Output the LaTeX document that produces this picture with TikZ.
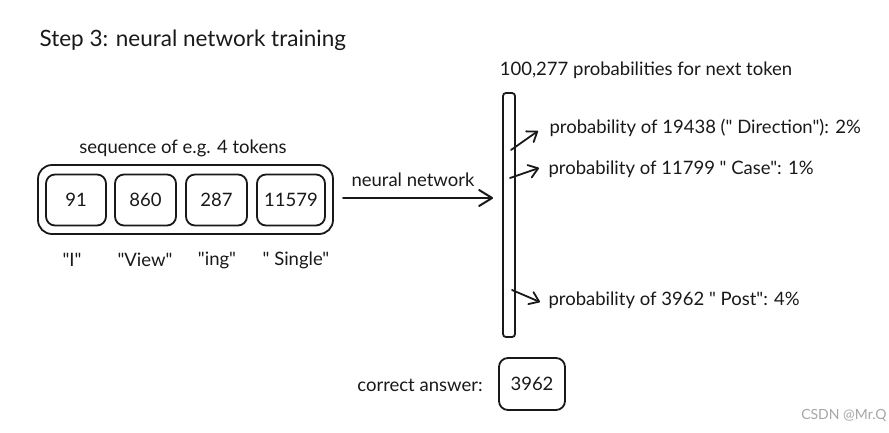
\documentclass[tikz,border=0pt]{standalone}
\usepackage{fontspec}
\setmainfont{Lato}
\newfontfamily\lato{Lato}
\usetikzlibrary{arrows.meta}
\begin{document}
\begin{tikzpicture}[x=1pt,y=-1pt,
  every node/.style={font=\lato\fontsize{18.5}{21}\selectfont, text=black!90},
  tok/.style={draw=black!90, line width=1.8pt, rounded corners=9pt, minimum height=51pt, inner sep=0pt},
  lbl/.style={anchor=west},
  arr/.style={draw=black!90, line width=1.8pt, line cap=round, -{Straight Barb[length=9pt,width=13pt,round]}},
  bigarr/.style={draw=black!90, line width=2pt, line cap=round, -{Straight Barb[length=13pt,width=16pt,round]}}]
\useasboundingbox (0,0) rectangle (889,432);
\node[anchor=west, font=\lato\fontsize{22.5}{26}\selectfont] (title) at (36,40) {Step 3: neural network training};
\node (seq) at (183,148) {sequence of e.g. 4 tokens};
\node[tok, minimum width=60pt] (t1) at (76,200) {91};
\node[tok, minimum width=61pt] (t2) at (145.5,200) {860};
\node[tok, minimum width=61pt] (t3) at (216.5,200) {287};
\node[tok, minimum width=68pt] (t4) at (291,200) {11579};
\draw[draw=black!90, line width=1.8pt, rounded corners=14pt] (38,165) rectangle (333,234);
\node (w1) at (72,260) {"I"};
\node (w2) at (145,260) {"View"};
\node (w3) at (217,260) {"ing"};
\node (w4) at (296,260) {" Single"};
\node[draw=black!90, line width=1.8pt, rounded corners=3pt, minimum width=12pt, minimum height=244pt, inner sep=0pt] (bar) at (509,215) {};
\coordinate (as) at (343,198);
\draw[bigarr] (as) -- ([xshift=-9pt]bar.west |- as);
\node (nn) at (413,180) {neural network};
\node (top) at (646,70) {100,277 probabilities for next token};
\node[lbl] (p1) at (546,128) {probability of 19438 (" Direction"): 2\%};
\node[lbl] (p2) at (545,169) {probability of 11799 " Case": 1\%};
\node[lbl] (p3) at (545,300) {probability of 3962 " Post": 4\%};
\coordinate (a1) at (511,150);
\coordinate (a2) at (510,178);
\coordinate (a3) at (512,290);
\draw[arr] (a1) -- ([xshift=-8pt]p1.west |- 0,131);
\draw[arr] (a2) -- ([xshift=-6pt]p2.west |- 0,168);
\draw[arr] (a3) -- ([xshift=-5pt]p3.west |- 0,302);
\node (ca) at (420,385) {correct answer:};
\node[tok, minimum width=66pt, minimum height=52pt] (ans) at (532,384) {3962};
\node[anchor=east, text=black!35, font=\lato\fontsize{14}{16}\selectfont] (wm) at (890,415) {CSDN @Mr.Q};
\end{tikzpicture}
\end{document}
